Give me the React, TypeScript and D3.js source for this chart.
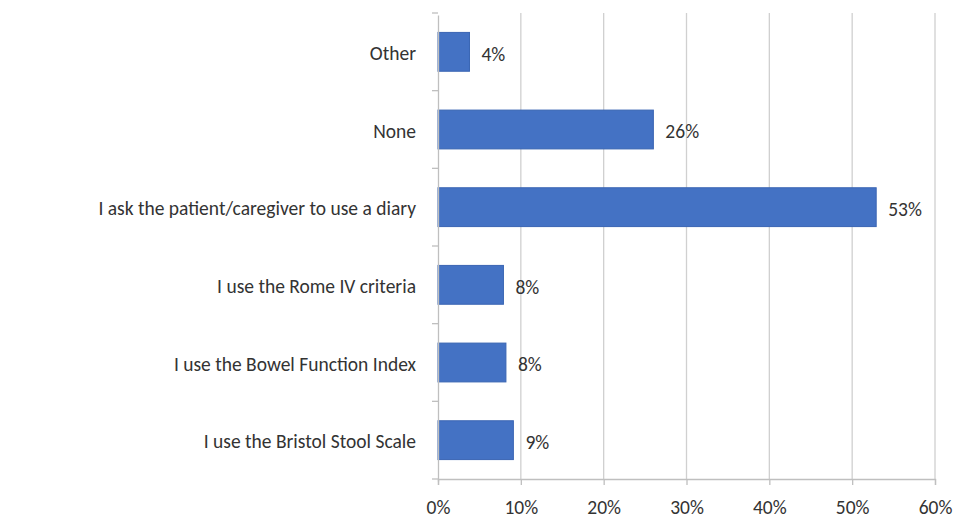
import React, { useEffect, useRef } from "react";
import * as d3 from "d3";

const categories = [
  "Other",
  "None",
  "I ask the patient/caregiver to use a diary",
  "I use the Rome IV criteria",
  "I use the Bowel Function Index",
  "I use the Bristol Stool Scale",
];
const values = [3.8, 26, 52.9, 7.9, 8.2, 9.1];
const labels = ["4%", "26%", "53%", "8%", "8%", "9%"];
const xTicks = [0, 10, 20, 30, 40, 50, 60];

const App = () => {
  const svgRef = useRef<SVGSVGElement>(null);

  useEffect(() => {
    const w = 954;
    const h = 519;
    const left = 438;
    const right = 935;
    const top = 13;
    const bottom = 479;
    const font = "Carlito, Lato, 'Open Sans', sans-serif";

    const svg = d3.select(svgRef.current).attr("width", w).attr("height", h);
    svg.selectAll("*").remove();

    const x = d3.scaleLinear().domain([0, 60]).range([left, right]);
    const y = d3
      .scaleBand()
      .domain(categories)
      .range([top, bottom])
      .paddingInner(0.5)
      .paddingOuter(0.25);

    // gridlines
    svg
      .append("g")
      .selectAll("line")
      .data(xTicks.slice(1))
      .enter()
      .append("line")
      .attr("x1", (d) => x(d))
      .attr("x2", (d) => x(d))
      .attr("y1", top)
      .attr("y2", bottom)
      .attr("stroke", "#d0d0d0")
      .attr("stroke-width", 1.3);

    // bars
    svg
      .append("g")
      .selectAll("rect")
      .data(values)
      .enter()
      .append("rect")
      .attr("x", x(0))
      .attr("y", (d, i) => y(categories[i]))
      .attr("width", (d) => x(d) - x(0))
      .attr("height", y.bandwidth())
      .attr("fill", "#4472C4")
      .attr("stroke", "#3a65b3")
      .attr("stroke-width", 1);

    // y axis
    const yAxis = d3.axisLeft(y).tickSize(0).tickPadding(22);
    const gy = svg
      .append("g")
      .attr("transform", `translate(${left},2)`)
      .call(yAxis);
    gy.select(".domain").attr("stroke", "#bfbfbf").attr("stroke-width", 1.3);
    gy.selectAll("text")
      .attr("fill", "#333")
      .attr("font-size", "19.5px")
      .attr("font-family", font);

    // category boundary ticks
    const step = (bottom - top) / categories.length;
    svg
      .append("g")
      .selectAll("line")
      .data(d3.range(categories.length + 1))
      .enter()
      .append("line")
      .attr("x1", left - 6)
      .attr("x2", left)
      .attr("y1", (d) => top + d * step)
      .attr("y2", (d) => top + d * step)
      .attr("stroke", "#bfbfbf")
      .attr("stroke-width", 1.3);

    // x axis
    const xAxis = d3
      .axisBottom(x)
      .tickValues(xTicks)
      .tickSize(6)
      .tickPadding(15)
      .tickFormat((d) => `${d}%`);
    const gx = svg
      .append("g")
      .attr("transform", `translate(0,${bottom})`)
      .call(xAxis);
    gx.select(".domain").attr("stroke", "#bfbfbf").attr("stroke-width", 1.3);
    gx.selectAll(".tick line").attr("stroke", "#bfbfbf").attr("stroke-width", 1.3);
    gx.selectAll("text")
      .attr("fill", "#333")
      .attr("font-size", "19.5px")
      .attr("font-family", font);

    // value labels
    svg
      .append("g")
      .selectAll("text")
      .data(values)
      .enter()
      .append("text")
      .attr("x", (d) => x(d) + 12)
      .attr("y", (d, i) => y(categories[i]) + y.bandwidth() / 2 + 2)
      .attr("dy", "0.35em")
      .attr("fill", "#333")
      .attr("font-size", "19.5px")
      .attr("font-family", font)
      .text((d, i) => labels[i]);
  }, []);

  return (
    <div style={{ position: "absolute", left: 0, top: 0, background: "#fff" }}>
      <svg ref={svgRef}></svg>
    </div>
  );
};

export default App;
